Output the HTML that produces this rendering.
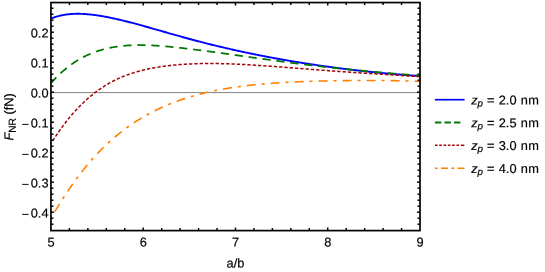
<!DOCTYPE html>
<html><head><meta charset="utf-8"><title>plot</title>
<style>
html,body{margin:0;padding:0;background:#fff;}
body{width:545px;height:272px;overflow:hidden;font-family:"Liberation Sans",sans-serif;}
svg{display:block;will-change:transform;opacity:0.9999;}
text{font-family:"Liberation Sans",sans-serif;font-size:12.8px;fill:#000;stroke:#000;stroke-width:0.18px;}
</style></head><body>
<svg width="545" height="272" viewBox="0 0 545 272">
<rect width="545" height="272" fill="#fff"/>
<line x1="50.95" y1="92.6" x2="420.0" y2="92.6" stroke="#4d4d4d" stroke-width="0.7"/>
<clipPath id="c"><rect x="50.95" y="2.55" width="369.05" height="228.04999999999998"/></clipPath>
<g clip-path="url(#c)" fill="none" stroke-width="2.0" stroke-linejoin="round">
<path d="M50.95,18.58 L51.87,18.22 L52.80,17.87 L53.72,17.54 L54.65,17.22 L55.57,16.92 L56.50,16.64 L57.42,16.37 L58.35,16.12 L59.27,15.89 L60.20,15.67 L61.12,15.46 L62.05,15.26 L62.97,15.09 L63.90,14.92 L64.82,14.77 L65.75,14.62 L66.67,14.50 L67.60,14.38 L68.52,14.27 L69.45,14.18 L70.37,14.10 L71.30,14.03 L72.22,13.97 L73.15,13.92 L74.07,13.87 L75.00,13.84 L75.92,13.82 L76.85,13.81 L77.77,13.80 L78.70,13.81 L79.62,13.82 L80.55,13.84 L81.47,13.87 L82.40,13.91 L83.32,13.95 L84.25,14.01 L85.17,14.07 L86.10,14.13 L87.02,14.20 L87.95,14.28 L88.87,14.37 L89.80,14.46 L90.72,14.55 L91.65,14.66 L92.57,14.76 L93.50,14.88 L94.42,15.00 L95.35,15.12 L96.27,15.25 L97.20,15.38 L98.12,15.52 L99.05,15.66 L99.97,15.81 L100.90,15.96 L101.82,16.11 L102.75,16.27 L103.67,16.44 L104.60,16.60 L105.52,16.77 L106.45,16.95 L107.37,17.12 L108.30,17.30 L109.22,17.49 L110.15,17.68 L111.07,17.87 L112.00,18.06 L112.92,18.26 L113.85,18.45 L114.77,18.66 L115.70,18.86 L116.62,19.07 L117.55,19.28 L118.47,19.49 L119.40,19.71 L120.32,19.93 L121.25,20.15 L122.17,20.37 L123.10,20.59 L124.02,20.82 L124.94,21.05 L125.87,21.28 L126.79,21.51 L127.72,21.75 L128.64,21.98 L129.57,22.22 L130.49,22.46 L131.42,22.70 L132.34,22.94 L133.27,23.19 L134.19,23.43 L135.12,23.68 L136.04,23.93 L136.97,24.18 L137.89,24.43 L138.82,24.68 L139.74,24.94 L140.67,25.19 L141.59,25.45 L142.52,25.70 L143.44,25.96 L144.37,26.22 L145.29,26.48 L146.22,26.74 L147.14,27.00 L148.07,27.26 L148.99,27.52 L149.92,27.78 L150.84,28.04 L151.77,28.30 L152.69,28.57 L153.62,28.83 L154.54,29.10 L155.47,29.36 L156.39,29.62 L157.32,29.89 L158.24,30.15 L159.17,30.42 L160.09,30.68 L161.02,30.95 L161.94,31.21 L162.87,31.48 L163.79,31.74 L164.72,32.01 L165.64,32.27 L166.57,32.53 L167.49,32.80 L168.42,33.06 L169.34,33.33 L170.27,33.59 L171.19,33.85 L172.12,34.11 L173.04,34.38 L173.97,34.64 L174.89,34.90 L175.82,35.16 L176.74,35.42 L177.67,35.68 L178.59,35.94 L179.52,36.20 L180.44,36.45 L181.37,36.71 L182.29,36.97 L183.22,37.22 L184.14,37.48 L185.07,37.73 L185.99,37.99 L186.92,38.24 L187.84,38.49 L188.77,38.74 L189.69,38.99 L190.62,39.24 L191.54,39.49 L192.47,39.74 L193.39,39.99 L194.32,40.23 L195.24,40.48 L196.17,40.72 L197.09,40.97 L198.02,41.21 L198.94,41.45 L199.86,41.69 L200.79,41.93 L201.71,42.17 L202.64,42.41 L203.56,42.65 L204.49,42.88 L205.41,43.12 L206.34,43.35 L207.26,43.59 L208.19,43.82 L209.11,44.05 L210.04,44.28 L210.96,44.51 L211.89,44.74 L212.81,44.97 L213.74,45.19 L214.66,45.42 L215.59,45.64 L216.51,45.87 L217.44,46.09 L218.36,46.31 L219.29,46.53 L220.21,46.75 L221.14,46.97 L222.06,47.19 L222.99,47.41 L223.91,47.63 L224.84,47.84 L225.76,48.06 L226.69,48.27 L227.61,48.48 L228.54,48.70 L229.46,48.91 L230.39,49.12 L231.31,49.33 L232.24,49.53 L233.16,49.74 L234.09,49.95 L235.01,50.15 L235.94,50.36 L236.86,50.56 L237.79,50.77 L238.71,50.97 L239.64,51.17 L240.56,51.37 L241.49,51.57 L242.41,51.77 L243.34,51.97 L244.26,52.16 L245.19,52.36 L246.11,52.56 L247.04,52.75 L247.96,52.94 L248.89,53.14 L249.81,53.33 L250.74,53.52 L251.66,53.71 L252.59,53.90 L253.51,54.09 L254.44,54.28 L255.36,54.46 L256.29,54.65 L257.21,54.84 L258.14,55.02 L259.06,55.20 L259.99,55.39 L260.91,55.57 L261.84,55.75 L262.76,55.93 L263.69,56.11 L264.61,56.29 L265.54,56.47 L266.46,56.64 L267.39,56.82 L268.31,57.00 L269.24,57.17 L270.16,57.34 L271.09,57.52 L272.01,57.69 L272.93,57.86 L273.86,58.03 L274.78,58.20 L275.71,58.37 L276.63,58.54 L277.56,58.71 L278.48,58.87 L279.41,59.04 L280.33,59.21 L281.26,59.37 L282.18,59.53 L283.11,59.70 L284.03,59.86 L284.96,60.02 L285.88,60.18 L286.81,60.34 L287.73,60.50 L288.66,60.66 L289.58,60.82 L290.51,60.97 L291.43,61.13 L292.36,61.29 L293.28,61.44 L294.21,61.59 L295.13,61.75 L296.06,61.90 L296.98,62.05 L297.91,62.20 L298.83,62.35 L299.76,62.50 L300.68,62.65 L301.61,62.80 L302.53,62.94 L303.46,63.09 L304.38,63.24 L305.31,63.38 L306.23,63.53 L307.16,63.67 L308.08,63.81 L309.01,63.95 L309.93,64.10 L310.86,64.24 L311.78,64.38 L312.71,64.52 L313.63,64.65 L314.56,64.79 L315.48,64.93 L316.41,65.07 L317.33,65.20 L318.26,65.34 L319.18,65.47 L320.11,65.60 L321.03,65.74 L321.96,65.87 L322.88,66.00 L323.81,66.13 L324.73,66.26 L325.66,66.39 L326.58,66.52 L327.51,66.65 L328.43,66.77 L329.36,66.90 L330.28,67.03 L331.21,67.15 L332.13,67.27 L333.06,67.40 L333.98,67.52 L334.91,67.64 L335.83,67.77 L336.76,67.89 L337.68,68.01 L338.61,68.13 L339.53,68.25 L340.46,68.36 L341.38,68.48 L342.31,68.60 L343.23,68.71 L344.16,68.83 L345.08,68.94 L346.01,69.06 L346.93,69.17 L347.85,69.28 L348.78,69.40 L349.70,69.51 L350.63,69.62 L351.55,69.73 L352.48,69.84 L353.40,69.95 L354.33,70.06 L355.25,70.16 L356.18,70.27 L357.10,70.38 L358.03,70.48 L358.95,70.59 L359.88,70.69 L360.80,70.79 L361.73,70.90 L362.65,71.00 L363.58,71.10 L364.50,71.20 L365.43,71.30 L366.35,71.40 L367.28,71.50 L368.20,71.60 L369.13,71.69 L370.05,71.79 L370.98,71.89 L371.90,71.98 L372.83,72.08 L373.75,72.17 L374.68,72.27 L375.60,72.36 L376.53,72.45 L377.45,72.54 L378.38,72.63 L379.30,72.72 L380.23,72.81 L381.15,72.90 L382.08,72.99 L383.00,73.08 L383.93,73.17 L384.85,73.25 L385.78,73.34 L386.70,73.42 L387.63,73.51 L388.55,73.59 L389.48,73.67 L390.40,73.76 L391.33,73.84 L392.25,73.92 L393.18,74.00 L394.10,74.08 L395.03,74.16 L395.95,74.24 L396.88,74.32 L397.80,74.39 L398.73,74.47 L399.65,74.55 L400.58,74.62 L401.50,74.70 L402.43,74.77 L403.35,74.85 L404.28,74.92 L405.20,74.99 L406.13,75.06 L407.05,75.13 L407.98,75.20 L408.90,75.27 L409.83,75.34 L410.75,75.41 L411.68,75.48 L412.60,75.55 L413.53,75.61 L414.45,75.68 L415.38,75.74 L416.30,75.81 L417.23,75.87 L418.15,75.94 L419.08,76.00 L420.00,76.06" stroke-width="1.9" stroke="#0000ff"/>
<path d="M50.95,83.25 L51.87,82.20 L52.80,81.17 L53.72,80.16 L54.65,79.17 L55.57,78.20 L56.50,77.26 L57.42,76.33 L58.35,75.41 L59.27,74.52 L60.20,73.65 L61.12,72.79 L62.05,71.95 L62.97,71.13 L63.90,70.33 L64.82,69.55 L65.75,68.78 L66.67,68.03 L67.60,67.29 L68.52,66.57 L69.45,65.87 L70.37,65.18 L71.30,64.51 L72.22,63.86 L73.15,63.22 L74.07,62.59 L75.00,61.98 L75.92,61.38 L76.85,60.80 L77.77,60.23 L78.70,59.68 L79.62,59.14 L80.55,58.61 L81.47,58.10 L82.40,57.60 L83.32,57.11 L84.25,56.64 L85.17,56.18 L86.10,55.73 L87.02,55.29 L87.95,54.86 L88.87,54.45 L89.80,54.05 L90.72,53.65 L91.65,53.28 L92.57,52.91 L93.50,52.55 L94.42,52.20 L95.35,51.86 L96.27,51.54 L97.20,51.22 L98.12,50.92 L99.05,50.62 L99.97,50.33 L100.90,50.05 L101.82,49.79 L102.75,49.53 L103.67,49.28 L104.60,49.04 L105.52,48.80 L106.45,48.58 L107.37,48.37 L108.30,48.16 L109.22,47.96 L110.15,47.77 L111.07,47.59 L112.00,47.41 L112.92,47.24 L113.85,47.08 L114.77,46.93 L115.70,46.78 L116.62,46.65 L117.55,46.51 L118.47,46.39 L119.40,46.27 L120.32,46.16 L121.25,46.05 L122.17,45.95 L123.10,45.86 L124.02,45.77 L124.94,45.69 L125.87,45.62 L126.79,45.55 L127.72,45.48 L128.64,45.43 L129.57,45.37 L130.49,45.32 L131.42,45.28 L132.34,45.24 L133.27,45.21 L134.19,45.18 L135.12,45.16 L136.04,45.14 L136.97,45.12 L137.89,45.11 L138.82,45.11 L139.74,45.11 L140.67,45.11 L141.59,45.11 L142.52,45.13 L143.44,45.14 L144.37,45.16 L145.29,45.18 L146.22,45.20 L147.14,45.23 L148.07,45.26 L148.99,45.30 L149.92,45.33 L150.84,45.38 L151.77,45.42 L152.69,45.47 L153.62,45.52 L154.54,45.57 L155.47,45.62 L156.39,45.68 L157.32,45.74 L158.24,45.80 L159.17,45.87 L160.09,45.94 L161.02,46.01 L161.94,46.08 L162.87,46.15 L163.79,46.23 L164.72,46.30 L165.64,46.38 L166.57,46.47 L167.49,46.55 L168.42,46.63 L169.34,46.72 L170.27,46.81 L171.19,46.90 L172.12,46.99 L173.04,47.09 L173.97,47.18 L174.89,47.28 L175.82,47.37 L176.74,47.47 L177.67,47.57 L178.59,47.67 L179.52,47.77 L180.44,47.88 L181.37,47.98 L182.29,48.09 L183.22,48.19 L184.14,48.30 L185.07,48.41 L185.99,48.52 L186.92,48.63 L187.84,48.74 L188.77,48.85 L189.69,48.96 L190.62,49.07 L191.54,49.19 L192.47,49.30 L193.39,49.42 L194.32,49.53 L195.24,49.65 L196.17,49.76 L197.09,49.88 L198.02,50.00 L198.94,50.12 L199.86,50.24 L200.79,50.36 L201.71,50.48 L202.64,50.60 L203.56,50.72 L204.49,50.84 L205.41,50.96 L206.34,51.08 L207.26,51.21 L208.19,51.33 L209.11,51.45 L210.04,51.58 L210.96,51.70 L211.89,51.83 L212.81,51.95 L213.74,52.08 L214.66,52.20 L215.59,52.33 L216.51,52.46 L217.44,52.58 L218.36,52.71 L219.29,52.84 L220.21,52.97 L221.14,53.09 L222.06,53.22 L222.99,53.35 L223.91,53.48 L224.84,53.61 L225.76,53.74 L226.69,53.87 L227.61,53.99 L228.54,54.12 L229.46,54.25 L230.39,54.38 L231.31,54.51 L232.24,54.64 L233.16,54.77 L234.09,54.90 L235.01,55.03 L235.94,55.16 L236.86,55.29 L237.79,55.42 L238.71,55.56 L239.64,55.69 L240.56,55.82 L241.49,55.95 L242.41,56.08 L243.34,56.21 L244.26,56.34 L245.19,56.47 L246.11,56.60 L247.04,56.73 L247.96,56.86 L248.89,56.99 L249.81,57.12 L250.74,57.25 L251.66,57.38 L252.59,57.51 L253.51,57.64 L254.44,57.77 L255.36,57.90 L256.29,58.03 L257.21,58.16 L258.14,58.29 L259.06,58.42 L259.99,58.55 L260.91,58.68 L261.84,58.81 L262.76,58.94 L263.69,59.06 L264.61,59.19 L265.54,59.32 L266.46,59.45 L267.39,59.58 L268.31,59.70 L269.24,59.83 L270.16,59.96 L271.09,60.09 L272.01,60.21 L272.93,60.34 L273.86,60.46 L274.78,60.59 L275.71,60.72 L276.63,60.84 L277.56,60.97 L278.48,61.09 L279.41,61.22 L280.33,61.34 L281.26,61.46 L282.18,61.59 L283.11,61.71 L284.03,61.83 L284.96,61.96 L285.88,62.08 L286.81,62.20 L287.73,62.32 L288.66,62.44 L289.58,62.57 L290.51,62.69 L291.43,62.81 L292.36,62.93 L293.28,63.05 L294.21,63.16 L295.13,63.28 L296.06,63.40 L296.98,63.52 L297.91,63.64 L298.83,63.76 L299.76,63.87 L300.68,63.99 L301.61,64.11 L302.53,64.22 L303.46,64.34 L304.38,64.45 L305.31,64.57 L306.23,64.68 L307.16,64.79 L308.08,64.91 L309.01,65.02 L309.93,65.13 L310.86,65.24 L311.78,65.36 L312.71,65.47 L313.63,65.58 L314.56,65.69 L315.48,65.80 L316.41,65.91 L317.33,66.02 L318.26,66.13 L319.18,66.23 L320.11,66.34 L321.03,66.45 L321.96,66.56 L322.88,66.66 L323.81,66.77 L324.73,66.87 L325.66,66.98 L326.58,67.08 L327.51,67.19 L328.43,67.29 L329.36,67.40 L330.28,67.50 L331.21,67.60 L332.13,67.70 L333.06,67.80 L333.98,67.91 L334.91,68.01 L335.83,68.11 L336.76,68.21 L337.68,68.31 L338.61,68.40 L339.53,68.50 L340.46,68.60 L341.38,68.70 L342.31,68.79 L343.23,68.89 L344.16,68.99 L345.08,69.08 L346.01,69.18 L346.93,69.27 L347.85,69.37 L348.78,69.46 L349.70,69.55 L350.63,69.65 L351.55,69.74 L352.48,69.83 L353.40,69.92 L354.33,70.02 L355.25,70.11 L356.18,70.20 L357.10,70.29 L358.03,70.38 L358.95,70.47 L359.88,70.55 L360.80,70.64 L361.73,70.73 L362.65,70.82 L363.58,70.91 L364.50,70.99 L365.43,71.08 L366.35,71.16 L367.28,71.25 L368.20,71.33 L369.13,71.42 L370.05,71.50 L370.98,71.59 L371.90,71.67 L372.83,71.75 L373.75,71.84 L374.68,71.92 L375.60,72.00 L376.53,72.08 L377.45,72.17 L378.38,72.25 L379.30,72.33 L380.23,72.41 L381.15,72.49 L382.08,72.57 L383.00,72.65 L383.93,72.73 L384.85,72.80 L385.78,72.88 L386.70,72.96 L387.63,73.04 L388.55,73.12 L389.48,73.19 L390.40,73.27 L391.33,73.35 L392.25,73.42 L393.18,73.50 L394.10,73.58 L395.03,73.65 L395.95,73.73 L396.88,73.80 L397.80,73.88 L398.73,73.95 L399.65,74.03 L400.58,74.10 L401.50,74.18 L402.43,74.25 L403.35,74.32 L404.28,74.40 L405.20,74.47 L406.13,74.54 L407.05,74.62 L407.98,74.69 L408.90,74.76 L409.83,74.83 L410.75,74.91 L411.68,74.98 L412.60,75.05 L413.53,75.12 L414.45,75.20 L415.38,75.27 L416.30,75.34 L417.23,75.41 L418.15,75.48 L419.08,75.55 L420.00,75.63" stroke-width="1.75" stroke="#007800" stroke-dasharray="8.2 5.8" stroke-dashoffset="0.3"/>
<path d="M50.95,143.68 L51.87,142.19 L52.80,140.73 L53.72,139.28 L54.65,137.86 L55.57,136.45 L56.50,135.07 L57.42,133.70 L58.35,132.35 L59.27,131.03 L60.20,129.72 L61.12,128.43 L62.05,127.16 L62.97,125.91 L63.90,124.67 L64.82,123.46 L65.75,122.26 L66.67,121.08 L67.60,119.92 L68.52,118.77 L69.45,117.64 L70.37,116.53 L71.30,115.44 L72.22,114.36 L73.15,113.30 L74.07,112.25 L75.00,111.23 L75.92,110.21 L76.85,109.22 L77.77,108.24 L78.70,107.27 L79.62,106.32 L80.55,105.38 L81.47,104.46 L82.40,103.56 L83.32,102.67 L84.25,101.79 L85.17,100.93 L86.10,100.09 L87.02,99.25 L87.95,98.44 L88.87,97.63 L89.80,96.84 L90.72,96.06 L91.65,95.30 L92.57,94.55 L93.50,93.81 L94.42,93.09 L95.35,92.38 L96.27,91.68 L97.20,91.00 L98.12,90.33 L99.05,89.67 L99.97,89.02 L100.90,88.39 L101.82,87.77 L102.75,87.16 L103.67,86.56 L104.60,85.97 L105.52,85.40 L106.45,84.84 L107.37,84.29 L108.30,83.75 L109.22,83.22 L110.15,82.70 L111.07,82.19 L112.00,81.70 L112.92,81.21 L113.85,80.74 L114.77,80.28 L115.70,79.82 L116.62,79.38 L117.55,78.94 L118.47,78.52 L119.40,78.10 L120.32,77.70 L121.25,77.30 L122.17,76.91 L123.10,76.53 L124.02,76.16 L124.94,75.80 L125.87,75.44 L126.79,75.10 L127.72,74.76 L128.64,74.43 L129.57,74.10 L130.49,73.79 L131.42,73.48 L132.34,73.18 L133.27,72.88 L134.19,72.59 L135.12,72.31 L136.04,72.04 L136.97,71.77 L137.89,71.51 L138.82,71.25 L139.74,71.01 L140.67,70.76 L141.59,70.53 L142.52,70.29 L143.44,70.07 L144.37,69.85 L145.29,69.63 L146.22,69.42 L147.14,69.22 L148.07,69.02 L148.99,68.82 L149.92,68.63 L150.84,68.45 L151.77,68.27 L152.69,68.09 L153.62,67.92 L154.54,67.75 L155.47,67.59 L156.39,67.43 L157.32,67.27 L158.24,67.12 L159.17,66.98 L160.09,66.83 L161.02,66.69 L161.94,66.56 L162.87,66.43 L163.79,66.30 L164.72,66.18 L165.64,66.05 L166.57,65.94 L167.49,65.82 L168.42,65.71 L169.34,65.60 L170.27,65.50 L171.19,65.40 L172.12,65.30 L173.04,65.21 L173.97,65.11 L174.89,65.02 L175.82,64.94 L176.74,64.86 L177.67,64.77 L178.59,64.70 L179.52,64.62 L180.44,64.55 L181.37,64.48 L182.29,64.42 L183.22,64.35 L184.14,64.29 L185.07,64.23 L185.99,64.18 L186.92,64.12 L187.84,64.07 L188.77,64.02 L189.69,63.98 L190.62,63.93 L191.54,63.89 L192.47,63.85 L193.39,63.82 L194.32,63.78 L195.24,63.75 L196.17,63.72 L197.09,63.70 L198.02,63.67 L198.94,63.65 L199.86,63.63 L200.79,63.61 L201.71,63.59 L202.64,63.58 L203.56,63.56 L204.49,63.55 L205.41,63.54 L206.34,63.54 L207.26,63.53 L208.19,63.53 L209.11,63.53 L210.04,63.53 L210.96,63.53 L211.89,63.53 L212.81,63.54 L213.74,63.54 L214.66,63.55 L215.59,63.56 L216.51,63.58 L217.44,63.59 L218.36,63.61 L219.29,63.62 L220.21,63.64 L221.14,63.66 L222.06,63.68 L222.99,63.70 L223.91,63.73 L224.84,63.75 L225.76,63.78 L226.69,63.81 L227.61,63.84 L228.54,63.87 L229.46,63.90 L230.39,63.93 L231.31,63.97 L232.24,64.00 L233.16,64.04 L234.09,64.08 L235.01,64.12 L235.94,64.16 L236.86,64.20 L237.79,64.24 L238.71,64.28 L239.64,64.33 L240.56,64.37 L241.49,64.42 L242.41,64.46 L243.34,64.51 L244.26,64.56 L245.19,64.61 L246.11,64.66 L247.04,64.71 L247.96,64.77 L248.89,64.82 L249.81,64.87 L250.74,64.93 L251.66,64.98 L252.59,65.04 L253.51,65.09 L254.44,65.15 L255.36,65.21 L256.29,65.27 L257.21,65.33 L258.14,65.39 L259.06,65.45 L259.99,65.51 L260.91,65.57 L261.84,65.63 L262.76,65.70 L263.69,65.76 L264.61,65.82 L265.54,65.89 L266.46,65.95 L267.39,66.02 L268.31,66.08 L269.24,66.15 L270.16,66.21 L271.09,66.28 L272.01,66.35 L272.93,66.42 L273.86,66.48 L274.78,66.55 L275.71,66.62 L276.63,66.69 L277.56,66.76 L278.48,66.83 L279.41,66.90 L280.33,66.97 L281.26,67.04 L282.18,67.11 L283.11,67.18 L284.03,67.25 L284.96,67.32 L285.88,67.39 L286.81,67.46 L287.73,67.53 L288.66,67.60 L289.58,67.67 L290.51,67.74 L291.43,67.81 L292.36,67.89 L293.28,67.96 L294.21,68.03 L295.13,68.10 L296.06,68.17 L296.98,68.25 L297.91,68.32 L298.83,68.39 L299.76,68.46 L300.68,68.53 L301.61,68.60 L302.53,68.68 L303.46,68.75 L304.38,68.82 L305.31,68.89 L306.23,68.96 L307.16,69.03 L308.08,69.11 L309.01,69.18 L309.93,69.25 L310.86,69.32 L311.78,69.39 L312.71,69.46 L313.63,69.53 L314.56,69.60 L315.48,69.68 L316.41,69.75 L317.33,69.82 L318.26,69.89 L319.18,69.96 L320.11,70.03 L321.03,70.10 L321.96,70.17 L322.88,70.24 L323.81,70.30 L324.73,70.37 L325.66,70.44 L326.58,70.51 L327.51,70.58 L328.43,70.65 L329.36,70.72 L330.28,70.78 L331.21,70.85 L332.13,70.92 L333.06,70.99 L333.98,71.05 L334.91,71.12 L335.83,71.19 L336.76,71.26 L337.68,71.32 L338.61,71.39 L339.53,71.45 L340.46,71.52 L341.38,71.58 L342.31,71.65 L343.23,71.72 L344.16,71.78 L345.08,71.84 L346.01,71.91 L346.93,71.97 L347.85,72.04 L348.78,72.10 L349.70,72.16 L350.63,72.23 L351.55,72.29 L352.48,72.35 L353.40,72.42 L354.33,72.48 L355.25,72.54 L356.18,72.60 L357.10,72.67 L358.03,72.73 L358.95,72.79 L359.88,72.85 L360.80,72.91 L361.73,72.97 L362.65,73.03 L363.58,73.09 L364.50,73.15 L365.43,73.21 L366.35,73.27 L367.28,73.33 L368.20,73.39 L369.13,73.45 L370.05,73.51 L370.98,73.57 L371.90,73.63 L372.83,73.69 L373.75,73.75 L374.68,73.81 L375.60,73.87 L376.53,73.93 L377.45,73.99 L378.38,74.04 L379.30,74.10 L380.23,74.16 L381.15,74.22 L382.08,74.28 L383.00,74.34 L383.93,74.40 L384.85,74.45 L385.78,74.51 L386.70,74.57 L387.63,74.63 L388.55,74.69 L389.48,74.74 L390.40,74.80 L391.33,74.86 L392.25,74.92 L393.18,74.98 L394.10,75.04 L395.03,75.09 L395.95,75.15 L396.88,75.21 L397.80,75.27 L398.73,75.33 L399.65,75.39 L400.58,75.45 L401.50,75.51 L402.43,75.57 L403.35,75.63 L404.28,75.69 L405.20,75.75 L406.13,75.81 L407.05,75.87 L407.98,75.93 L408.90,75.99 L409.83,76.05 L410.75,76.11 L411.68,76.18 L412.60,76.24 L413.53,76.30 L414.45,76.36 L415.38,76.43 L416.30,76.49 L417.23,76.55 L418.15,76.62 L419.08,76.68 L420.00,76.75" stroke-width="1.5" stroke="#a80008" stroke-dasharray="3.3 2.005" stroke-dashoffset="2.05"/>
<path d="M50.95,218.13 L51.87,216.55 L52.80,214.98 L53.72,213.42 L54.65,211.87 L55.57,210.34 L56.50,208.81 L57.42,207.30 L58.35,205.80 L59.27,204.31 L60.20,202.83 L61.12,201.37 L62.05,199.91 L62.97,198.47 L63.90,197.04 L64.82,195.62 L65.75,194.22 L66.67,192.82 L67.60,191.44 L68.52,190.07 L69.45,188.72 L70.37,187.37 L71.30,186.04 L72.22,184.72 L73.15,183.41 L74.07,182.12 L75.00,180.84 L75.92,179.57 L76.85,178.31 L77.77,177.07 L78.70,175.84 L79.62,174.62 L80.55,173.41 L81.47,172.22 L82.40,171.04 L83.32,169.87 L84.25,168.71 L85.17,167.57 L86.10,166.43 L87.02,165.31 L87.95,164.21 L88.87,163.11 L89.80,162.03 L90.72,160.96 L91.65,159.90 L92.57,158.85 L93.50,157.82 L94.42,156.79 L95.35,155.78 L96.27,154.78 L97.20,153.80 L98.12,152.82 L99.05,151.85 L99.97,150.90 L100.90,149.96 L101.82,149.03 L102.75,148.11 L103.67,147.20 L104.60,146.30 L105.52,145.41 L106.45,144.53 L107.37,143.66 L108.30,142.81 L109.22,141.96 L110.15,141.12 L111.07,140.30 L112.00,139.48 L112.92,138.67 L113.85,137.88 L114.77,137.09 L115.70,136.31 L116.62,135.54 L117.55,134.78 L118.47,134.03 L119.40,133.29 L120.32,132.56 L121.25,131.83 L122.17,131.12 L123.10,130.41 L124.02,129.71 L124.94,129.03 L125.87,128.34 L126.79,127.67 L127.72,127.01 L128.64,126.35 L129.57,125.70 L130.49,125.06 L131.42,124.43 L132.34,123.80 L133.27,123.19 L134.19,122.58 L135.12,121.97 L136.04,121.38 L136.97,120.79 L137.89,120.21 L138.82,119.64 L139.74,119.07 L140.67,118.51 L141.59,117.96 L142.52,117.41 L143.44,116.87 L144.37,116.34 L145.29,115.81 L146.22,115.29 L147.14,114.78 L148.07,114.27 L148.99,113.77 L149.92,113.28 L150.84,112.79 L151.77,112.31 L152.69,111.83 L153.62,111.36 L154.54,110.89 L155.47,110.44 L156.39,109.98 L157.32,109.54 L158.24,109.09 L159.17,108.66 L160.09,108.23 L161.02,107.80 L161.94,107.38 L162.87,106.97 L163.79,106.56 L164.72,106.15 L165.64,105.75 L166.57,105.36 L167.49,104.97 L168.42,104.58 L169.34,104.21 L170.27,103.83 L171.19,103.46 L172.12,103.10 L173.04,102.74 L173.97,102.38 L174.89,102.03 L175.82,101.68 L176.74,101.34 L177.67,101.00 L178.59,100.67 L179.52,100.34 L180.44,100.02 L181.37,99.70 L182.29,99.38 L183.22,99.07 L184.14,98.76 L185.07,98.46 L185.99,98.16 L186.92,97.86 L187.84,97.57 L188.77,97.29 L189.69,97.00 L190.62,96.72 L191.54,96.45 L192.47,96.18 L193.39,95.91 L194.32,95.64 L195.24,95.38 L196.17,95.13 L197.09,94.87 L198.02,94.62 L198.94,94.38 L199.86,94.14 L200.79,93.90 L201.71,93.66 L202.64,93.43 L203.56,93.20 L204.49,92.97 L205.41,92.75 L206.34,92.53 L207.26,92.32 L208.19,92.10 L209.11,91.89 L210.04,91.69 L210.96,91.48 L211.89,91.28 L212.81,91.09 L213.74,90.89 L214.66,90.70 L215.59,90.51 L216.51,90.33 L217.44,90.14 L218.36,89.96 L219.29,89.78 L220.21,89.61 L221.14,89.44 L222.06,89.27 L222.99,89.10 L223.91,88.94 L224.84,88.78 L225.76,88.62 L226.69,88.46 L227.61,88.31 L228.54,88.15 L229.46,88.01 L230.39,87.86 L231.31,87.71 L232.24,87.57 L233.16,87.43 L234.09,87.29 L235.01,87.16 L235.94,87.03 L236.86,86.89 L237.79,86.77 L238.71,86.64 L239.64,86.51 L240.56,86.39 L241.49,86.27 L242.41,86.15 L243.34,86.04 L244.26,85.92 L245.19,85.81 L246.11,85.70 L247.04,85.59 L247.96,85.48 L248.89,85.38 L249.81,85.27 L250.74,85.17 L251.66,85.07 L252.59,84.97 L253.51,84.87 L254.44,84.78 L255.36,84.69 L256.29,84.59 L257.21,84.50 L258.14,84.42 L259.06,84.33 L259.99,84.24 L260.91,84.16 L261.84,84.08 L262.76,84.00 L263.69,83.92 L264.61,83.84 L265.54,83.76 L266.46,83.69 L267.39,83.61 L268.31,83.54 L269.24,83.47 L270.16,83.40 L271.09,83.33 L272.01,83.26 L272.93,83.20 L273.86,83.13 L274.78,83.07 L275.71,83.01 L276.63,82.94 L277.56,82.88 L278.48,82.82 L279.41,82.77 L280.33,82.71 L281.26,82.65 L282.18,82.60 L283.11,82.54 L284.03,82.49 L284.96,82.44 L285.88,82.39 L286.81,82.34 L287.73,82.29 L288.66,82.24 L289.58,82.19 L290.51,82.15 L291.43,82.10 L292.36,82.06 L293.28,82.01 L294.21,81.97 L295.13,81.93 L296.06,81.89 L296.98,81.85 L297.91,81.81 L298.83,81.77 L299.76,81.73 L300.68,81.70 L301.61,81.66 L302.53,81.62 L303.46,81.59 L304.38,81.55 L305.31,81.52 L306.23,81.49 L307.16,81.46 L308.08,81.42 L309.01,81.39 L309.93,81.36 L310.86,81.33 L311.78,81.30 L312.71,81.28 L313.63,81.25 L314.56,81.22 L315.48,81.19 L316.41,81.17 L317.33,81.14 L318.26,81.12 L319.18,81.09 L320.11,81.07 L321.03,81.05 L321.96,81.02 L322.88,81.00 L323.81,80.98 L324.73,80.96 L325.66,80.94 L326.58,80.92 L327.51,80.90 L328.43,80.88 L329.36,80.86 L330.28,80.84 L331.21,80.82 L332.13,80.81 L333.06,80.79 L333.98,80.77 L334.91,80.76 L335.83,80.74 L336.76,80.73 L337.68,80.71 L338.61,80.70 L339.53,80.68 L340.46,80.67 L341.38,80.66 L342.31,80.64 L343.23,80.63 L344.16,80.62 L345.08,80.61 L346.01,80.60 L346.93,80.59 L347.85,80.58 L348.78,80.57 L349.70,80.56 L350.63,80.55 L351.55,80.54 L352.48,80.53 L353.40,80.53 L354.33,80.52 L355.25,80.51 L356.18,80.51 L357.10,80.50 L358.03,80.49 L358.95,80.49 L359.88,80.48 L360.80,80.48 L361.73,80.48 L362.65,80.47 L363.58,80.47 L364.50,80.47 L365.43,80.47 L366.35,80.46 L367.28,80.46 L368.20,80.46 L369.13,80.46 L370.05,80.46 L370.98,80.46 L371.90,80.47 L372.83,80.47 L373.75,80.47 L374.68,80.47 L375.60,80.48 L376.53,80.48 L377.45,80.48 L378.38,80.49 L379.30,80.49 L380.23,80.50 L381.15,80.51 L382.08,80.51 L383.00,80.52 L383.93,80.53 L384.85,80.54 L385.78,80.55 L386.70,80.56 L387.63,80.57 L388.55,80.58 L389.48,80.59 L390.40,80.60 L391.33,80.61 L392.25,80.63 L393.18,80.64 L394.10,80.66 L395.03,80.67 L395.95,80.69 L396.88,80.70 L397.80,80.72 L398.73,80.74 L399.65,80.76 L400.58,80.78 L401.50,80.80 L402.43,80.82 L403.35,80.84 L404.28,80.87 L405.20,80.89 L406.13,80.91 L407.05,80.94 L407.98,80.97 L408.90,80.99 L409.83,81.02 L410.75,81.05 L411.68,81.08 L412.60,81.11 L413.53,81.14 L414.45,81.18 L415.38,81.21 L416.30,81.24 L417.23,81.28 L418.15,81.32 L419.08,81.36 L420.00,81.39" stroke-width="1.6" stroke="#ff8000" stroke-dasharray="3 6 9 6" stroke-dashoffset="1.5"/>
</g>
<g stroke="#000" stroke-width="1.45">
<line x1="69.40" y1="230.6" x2="69.40" y2="228.05"/>
<line x1="69.40" y1="2.55" x2="69.40" y2="5.10"/>
<line x1="87.86" y1="230.6" x2="87.86" y2="228.05"/>
<line x1="87.86" y1="2.55" x2="87.86" y2="5.10"/>
<line x1="106.31" y1="230.6" x2="106.31" y2="228.05"/>
<line x1="106.31" y1="2.55" x2="106.31" y2="5.10"/>
<line x1="124.76" y1="230.6" x2="124.76" y2="228.05"/>
<line x1="124.76" y1="2.55" x2="124.76" y2="5.10"/>
<line x1="143.21" y1="230.6" x2="143.21" y2="227.55"/>
<line x1="143.21" y1="2.55" x2="143.21" y2="5.60"/>
<line x1="161.67" y1="230.6" x2="161.67" y2="228.05"/>
<line x1="161.67" y1="2.55" x2="161.67" y2="5.10"/>
<line x1="180.12" y1="230.6" x2="180.12" y2="228.05"/>
<line x1="180.12" y1="2.55" x2="180.12" y2="5.10"/>
<line x1="198.57" y1="230.6" x2="198.57" y2="228.05"/>
<line x1="198.57" y1="2.55" x2="198.57" y2="5.10"/>
<line x1="217.02" y1="230.6" x2="217.02" y2="228.05"/>
<line x1="217.02" y1="2.55" x2="217.02" y2="5.10"/>
<line x1="235.48" y1="230.6" x2="235.48" y2="227.55"/>
<line x1="235.48" y1="2.55" x2="235.48" y2="5.60"/>
<line x1="253.93" y1="230.6" x2="253.93" y2="228.05"/>
<line x1="253.93" y1="2.55" x2="253.93" y2="5.10"/>
<line x1="272.38" y1="230.6" x2="272.38" y2="228.05"/>
<line x1="272.38" y1="2.55" x2="272.38" y2="5.10"/>
<line x1="290.83" y1="230.6" x2="290.83" y2="228.05"/>
<line x1="290.83" y1="2.55" x2="290.83" y2="5.10"/>
<line x1="309.29" y1="230.6" x2="309.29" y2="228.05"/>
<line x1="309.29" y1="2.55" x2="309.29" y2="5.10"/>
<line x1="327.74" y1="230.6" x2="327.74" y2="227.55"/>
<line x1="327.74" y1="2.55" x2="327.74" y2="5.60"/>
<line x1="346.19" y1="230.6" x2="346.19" y2="228.05"/>
<line x1="346.19" y1="2.55" x2="346.19" y2="5.10"/>
<line x1="364.64" y1="230.6" x2="364.64" y2="228.05"/>
<line x1="364.64" y1="2.55" x2="364.64" y2="5.10"/>
<line x1="383.09" y1="230.6" x2="383.09" y2="228.05"/>
<line x1="383.09" y1="2.55" x2="383.09" y2="5.10"/>
<line x1="401.55" y1="230.6" x2="401.55" y2="228.05"/>
<line x1="401.55" y1="2.55" x2="401.55" y2="5.10"/>
<line x1="50.95" y1="224.20" x2="53.50" y2="224.20"/>
<line x1="420.0" y1="224.20" x2="417.45" y2="224.20"/>
<line x1="50.95" y1="218.20" x2="53.50" y2="218.20"/>
<line x1="420.0" y1="218.20" x2="417.45" y2="218.20"/>
<line x1="50.95" y1="212.20" x2="54.00" y2="212.20"/>
<line x1="420.0" y1="212.20" x2="416.95" y2="212.20"/>
<line x1="50.95" y1="206.20" x2="53.50" y2="206.20"/>
<line x1="420.0" y1="206.20" x2="417.45" y2="206.20"/>
<line x1="50.95" y1="200.20" x2="53.50" y2="200.20"/>
<line x1="420.0" y1="200.20" x2="417.45" y2="200.20"/>
<line x1="50.95" y1="194.20" x2="53.50" y2="194.20"/>
<line x1="420.0" y1="194.20" x2="417.45" y2="194.20"/>
<line x1="50.95" y1="188.20" x2="53.50" y2="188.20"/>
<line x1="420.0" y1="188.20" x2="417.45" y2="188.20"/>
<line x1="50.95" y1="182.20" x2="54.00" y2="182.20"/>
<line x1="420.0" y1="182.20" x2="416.95" y2="182.20"/>
<line x1="50.95" y1="176.20" x2="53.50" y2="176.20"/>
<line x1="420.0" y1="176.20" x2="417.45" y2="176.20"/>
<line x1="50.95" y1="170.20" x2="53.50" y2="170.20"/>
<line x1="420.0" y1="170.20" x2="417.45" y2="170.20"/>
<line x1="50.95" y1="164.20" x2="53.50" y2="164.20"/>
<line x1="420.0" y1="164.20" x2="417.45" y2="164.20"/>
<line x1="50.95" y1="158.20" x2="53.50" y2="158.20"/>
<line x1="420.0" y1="158.20" x2="417.45" y2="158.20"/>
<line x1="50.95" y1="152.20" x2="54.00" y2="152.20"/>
<line x1="420.0" y1="152.20" x2="416.95" y2="152.20"/>
<line x1="50.95" y1="146.20" x2="53.50" y2="146.20"/>
<line x1="420.0" y1="146.20" x2="417.45" y2="146.20"/>
<line x1="50.95" y1="140.20" x2="53.50" y2="140.20"/>
<line x1="420.0" y1="140.20" x2="417.45" y2="140.20"/>
<line x1="50.95" y1="134.20" x2="53.50" y2="134.20"/>
<line x1="420.0" y1="134.20" x2="417.45" y2="134.20"/>
<line x1="50.95" y1="128.20" x2="53.50" y2="128.20"/>
<line x1="420.0" y1="128.20" x2="417.45" y2="128.20"/>
<line x1="50.95" y1="122.20" x2="54.00" y2="122.20"/>
<line x1="420.0" y1="122.20" x2="416.95" y2="122.20"/>
<line x1="50.95" y1="116.20" x2="53.50" y2="116.20"/>
<line x1="420.0" y1="116.20" x2="417.45" y2="116.20"/>
<line x1="50.95" y1="110.20" x2="53.50" y2="110.20"/>
<line x1="420.0" y1="110.20" x2="417.45" y2="110.20"/>
<line x1="50.95" y1="104.20" x2="53.50" y2="104.20"/>
<line x1="420.0" y1="104.20" x2="417.45" y2="104.20"/>
<line x1="50.95" y1="98.20" x2="53.50" y2="98.20"/>
<line x1="420.0" y1="98.20" x2="417.45" y2="98.20"/>
<line x1="50.95" y1="92.20" x2="54.00" y2="92.20"/>
<line x1="420.0" y1="92.20" x2="416.95" y2="92.20"/>
<line x1="50.95" y1="86.20" x2="53.50" y2="86.20"/>
<line x1="420.0" y1="86.20" x2="417.45" y2="86.20"/>
<line x1="50.95" y1="80.20" x2="53.50" y2="80.20"/>
<line x1="420.0" y1="80.20" x2="417.45" y2="80.20"/>
<line x1="50.95" y1="74.20" x2="53.50" y2="74.20"/>
<line x1="420.0" y1="74.20" x2="417.45" y2="74.20"/>
<line x1="50.95" y1="68.20" x2="53.50" y2="68.20"/>
<line x1="420.0" y1="68.20" x2="417.45" y2="68.20"/>
<line x1="50.95" y1="62.20" x2="54.00" y2="62.20"/>
<line x1="420.0" y1="62.20" x2="416.95" y2="62.20"/>
<line x1="50.95" y1="56.20" x2="53.50" y2="56.20"/>
<line x1="420.0" y1="56.20" x2="417.45" y2="56.20"/>
<line x1="50.95" y1="50.20" x2="53.50" y2="50.20"/>
<line x1="420.0" y1="50.20" x2="417.45" y2="50.20"/>
<line x1="50.95" y1="44.20" x2="53.50" y2="44.20"/>
<line x1="420.0" y1="44.20" x2="417.45" y2="44.20"/>
<line x1="50.95" y1="38.20" x2="53.50" y2="38.20"/>
<line x1="420.0" y1="38.20" x2="417.45" y2="38.20"/>
<line x1="50.95" y1="32.20" x2="54.00" y2="32.20"/>
<line x1="420.0" y1="32.20" x2="416.95" y2="32.20"/>
<line x1="50.95" y1="26.20" x2="53.50" y2="26.20"/>
<line x1="420.0" y1="26.20" x2="417.45" y2="26.20"/>
<line x1="50.95" y1="20.20" x2="53.50" y2="20.20"/>
<line x1="420.0" y1="20.20" x2="417.45" y2="20.20"/>
<line x1="50.95" y1="14.20" x2="53.50" y2="14.20"/>
<line x1="420.0" y1="14.20" x2="417.45" y2="14.20"/>
<line x1="50.95" y1="8.20" x2="53.50" y2="8.20"/>
<line x1="420.0" y1="8.20" x2="417.45" y2="8.20"/>
</g>
<rect x="50.95" y="2.55" width="369.05" height="228.05" fill="none" stroke="#000" stroke-width="1.7"/>
<g>
<text x="48.5" y="37.40" text-anchor="end" transform="rotate(0.03 48.5 37.40)">0.2</text>
<text x="48.5" y="67.40" text-anchor="end" transform="rotate(0.03 48.5 67.40)">0.1</text>
<text x="48.5" y="97.40" text-anchor="end" transform="rotate(0.03 48.5 97.40)">0.0</text>
<text x="48.5" y="127.40" text-anchor="end" transform="rotate(0.03 48.5 127.40)">0.1</text>
<line x1="22.2" y1="124.40" x2="28.6" y2="124.40" stroke="#000" stroke-width="0.95"/>
<text x="48.5" y="157.40" text-anchor="end" transform="rotate(0.03 48.5 157.40)">0.2</text>
<line x1="22.2" y1="154.40" x2="28.6" y2="154.40" stroke="#000" stroke-width="0.95"/>
<text x="48.5" y="187.40" text-anchor="end" transform="rotate(0.03 48.5 187.40)">0.3</text>
<line x1="22.2" y1="184.40" x2="28.6" y2="184.40" stroke="#000" stroke-width="0.95"/>
<text x="48.5" y="217.40" text-anchor="end" transform="rotate(0.03 48.5 217.40)">0.4</text>
<line x1="22.2" y1="214.40" x2="28.6" y2="214.40" stroke="#000" stroke-width="0.95"/>
<text x="51.05" y="246.4" text-anchor="middle" transform="rotate(0.03 50.95 246.4)">5</text>
<text x="143.31" y="246.4" text-anchor="middle" transform="rotate(0.03 143.21 246.4)">6</text>
<text x="235.58" y="246.4" text-anchor="middle" transform="rotate(0.03 235.48 246.4)">7</text>
<text x="327.84" y="246.4" text-anchor="middle" transform="rotate(0.03 327.74 246.4)">8</text>
<text x="420.10" y="246.4" text-anchor="middle" transform="rotate(0.03 420.00 246.4)">9</text>
<text x="235.47" y="267.6" text-anchor="middle" transform="rotate(0.03 235 267.6)">a/b</text>
<text transform="translate(13.2,116.9) rotate(-89.97)" text-anchor="middle" font-size="13.2"><tspan font-style="italic">F</tspan><tspan font-size="10.2" dy="2.6">NR</tspan><tspan dy="-2.6"> (fN)</tspan></text>
</g>
<g>
<line x1="434.9" y1="99.7" x2="464.6" y2="99.7" stroke="#0000ff" stroke-width="1.7"/>
<text x="471.2" y="104.40" font-size="13.2" transform="rotate(0.03 471.2 104.40)"><tspan font-style="italic">z</tspan><tspan font-style="italic" font-size="9.8" dy="2.0">p</tspan><tspan dy="-2.0" dx="0.5" stroke="#000" stroke-width="0.25"> =</tspan><tspan dx="0.6"> 2.0</tspan><tspan letter-spacing="0.35" dx="0.3"> nm</tspan></text>
<line x1="434.9" y1="122.5" x2="460.9" y2="122.5" stroke="#007800" stroke-width="1.8" stroke-dasharray="6.4 3.16"/>
<text x="471.2" y="127.20" font-size="13.2" transform="rotate(0.03 471.2 127.20)"><tspan font-style="italic">z</tspan><tspan font-style="italic" font-size="9.8" dy="2.0">p</tspan><tspan dy="-2.0" dx="0.5" stroke="#000" stroke-width="0.25"> =</tspan><tspan dx="0.6"> 2.5</tspan><tspan letter-spacing="0.35" dx="0.3"> nm</tspan></text>
<line x1="434.9" y1="145.3" x2="460.0" y2="145.3" stroke="#a80008" stroke-width="1.5" stroke-dasharray="2.65 1.66"/>
<line x1="460.75" y1="145.3" x2="464.3" y2="145.3" stroke="#a80008" stroke-width="1.5"/>
<text x="471.2" y="150.00" font-size="13.2" transform="rotate(0.03 471.2 150.00)"><tspan font-style="italic">z</tspan><tspan font-style="italic" font-size="9.8" dy="2.0">p</tspan><tspan dy="-2.0" dx="0.5" stroke="#000" stroke-width="0.25"> =</tspan><tspan dx="0.6"> 3.0</tspan><tspan letter-spacing="0.35" dx="0.3"> nm</tspan></text>
<line x1="434.9" y1="168.2" x2="464.6" y2="168.2" stroke="#ff8000" stroke-width="1.6" stroke-dasharray="2.8 3.4 6.9 3.4"/>
<text x="471.2" y="172.90" font-size="13.2" transform="rotate(0.03 471.2 172.90)"><tspan font-style="italic">z</tspan><tspan font-style="italic" font-size="9.8" dy="2.0">p</tspan><tspan dy="-2.0" dx="0.5" stroke="#000" stroke-width="0.25"> =</tspan><tspan dx="0.6"> 4.0</tspan><tspan letter-spacing="0.35" dx="0.3"> nm</tspan></text>
</g>
</svg>
</body></html>
